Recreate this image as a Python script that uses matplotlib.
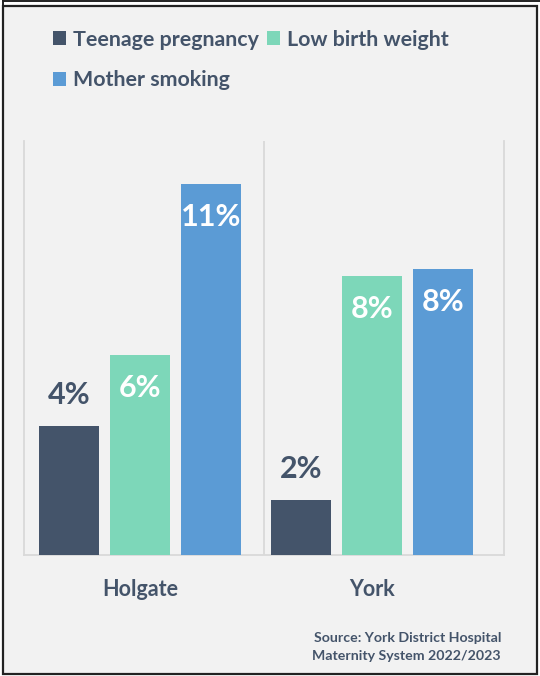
import matplotlib.pyplot as plt
from matplotlib.patches import Rectangle
from matplotlib.lines import Line2D

plt.rcParams['font.family'] = ['Lato', 'DejaVu Sans']

# data
areas = ['Holgate', 'York']
series = ['Teenage pregnancy', 'Low birth weight', 'Mother smoking']
teen = [3.74, 1.6]
low_bw = [5.8, 8.1]
smoking = [10.75, 8.3]
colours = ['#44546A', '#7DD7B9', '#5B9BD5']
text_col = '#44546A'

fig = plt.figure(figsize=(5.4, 6.76), dpi=100)
fig.patch.set_facecolor('white')

# outer frame
fig.patches.append(Rectangle((3 / 540, 2 / 676), 534 / 540, 668 / 676,
                             transform=fig.transFigure, facecolor='#F2F2F2',
                             edgecolor='#222222', lw=1.6, zorder=-5))
fig.lines.append(Line2D([3 / 540, 1], [675 / 676, 675 / 676],
                        transform=fig.transFigure, color='#222222', lw=1.4))
fig.lines.append(Line2D([3 / 540, 3 / 540], [670 / 676, 1],
                        transform=fig.transFigure, color='#222222', lw=1.4))

ax = fig.add_axes([24 / 540, 121 / 676, 480 / 540, 414 / 676])
ax.patch.set_visible(False)

width = 0.256
step = 0.306
xs = list(range(len(areas)))
handles = []
for k, (vals, col) in enumerate(zip([teen, low_bw, smoking], colours)):
    pos = [x + (k - 1) * step for x in xs]
    bars = ax.bar(pos, vals, width=width, color=col, label=series[k], zorder=3)
    handles.append(bars)
    for b, v in zip(bars, vals):
        cx = b.get_x() + b.get_width() / 2
        if v >= 5:
            ax.annotate(f'{round(v):.0f}%', (cx, v), xytext=(0, -24),
                        textcoords='offset points', ha='center', va='center',
                        color='white', fontsize=22, fontweight='bold', zorder=4)
        else:
            ax.annotate(f'{round(v):.0f}%', (cx, v), xytext=(0, 22),
                        textcoords='offset points', ha='center', va='center',
                        color=text_col, fontsize=22, fontweight='bold', zorder=4)

ax.set_xlim(-0.5, 1.569)
ax.set_ylim(0, 12)
ax.axvline(0.534, color='#D9D9D9', lw=1.3, zorder=1)
for s in ['left', 'right', 'bottom']:
    ax.spines[s].set_color('#D9D9D9')
    ax.spines[s].set_linewidth(1.3)
ax.spines['top'].set_visible(False)
ax.set_yticks([])
ax.set_xticks(xs)
ax.set_xticklabels(areas, fontsize=15.5, fontweight='bold', color=text_col)
ax.tick_params(axis='x', length=0, pad=17)

# legend: row 1 teen + low, row 2 smoking
order = [0, 2, 1]
fig.legend([handles[i] for i in order], [series[i] for i in order],
           ncol=2, loc='upper left', bbox_to_anchor=(53 / 540, 646.5 / 676),
           frameon=False, prop={'weight': 'bold', 'size': 15.4},
           labelcolor=text_col, handlelength=0.62, handleheight=0.62,
           handletextpad=0.3, columnspacing=0.4, labelspacing=0.98,
           borderpad=0, borderaxespad=0)

fig.text(501 / 540, 29 / 676,
         'Source: York District Hospital\nMaternity System 2022/2023',
         ha='right', va='center', fontsize=10.2, fontweight='bold',
         color=text_col, linespacing=1.55)

fig.savefig('out.png', dpi=100, facecolor=fig.get_facecolor())
